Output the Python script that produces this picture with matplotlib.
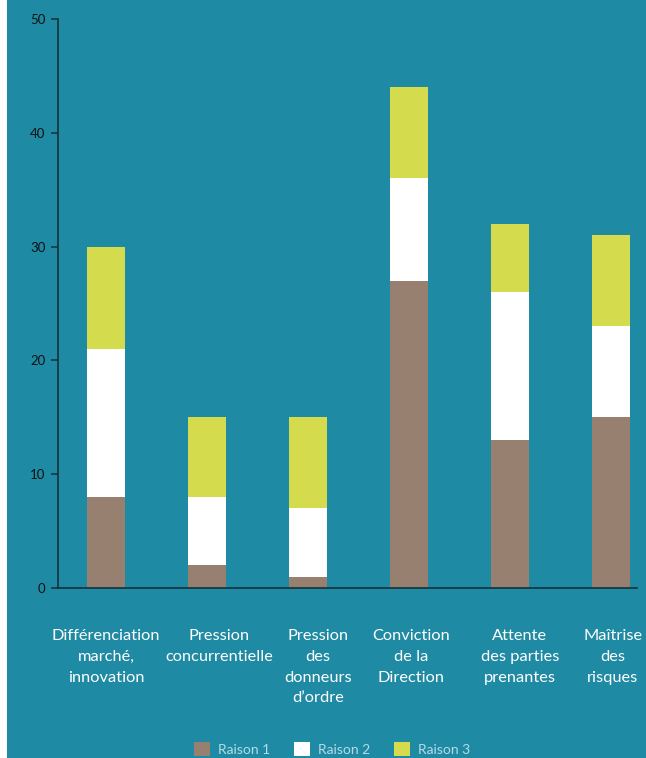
import matplotlib
matplotlib.use("Agg")
import matplotlib.pyplot as plt
from matplotlib.patches import Rectangle, Patch
import numpy as np

plt.rcParams['font.family'] = ['Lato', 'DejaVu Sans']

categories = [
    "Différenciation\nmarché,\ninnovation",
    "Pression\nconcurrentielle",
    "Pression\ndes\ndonneurs\nd’ordre",
    "Conviction\nde la\nDirection",
    "Attente\ndes parties\nprenantes",
    "Maîtrise\ndes\nrisques",
]
raison1 = [8, 2, 1, 27, 13, 15]
raison2 = [13, 6, 6, 9, 13, 8]
raison3 = [9, 7, 8, 8, 6, 8]
series_names = ["Raison 1", "Raison 2", "Raison 3"]
y_ticks = [0, 10, 20, 30, 40, 50]

bg = "#1F8AA3"
colors = ["#978070", "#FFFFFF", "#D4DB4C"]
label_shift_px = [0, 12, 10, 2, 10, 2]

W, H = 646, 758
fig = plt.figure(figsize=(W / 100, H / 100), dpi=100)
fig.patch.set_facecolor("white")
fig.add_artist(Rectangle((7 / W, 0), 1 - 7 / W, 1, transform=fig.transFigure,
                         facecolor=bg, edgecolor="none", zorder=0))

ax = fig.add_axes([58 / W, (H - 588) / H, (637 - 58) / W, (588 - 19) / H])
ax.set_facecolor("none")

x = np.arange(len(categories))
r1 = np.array(raison1)
r2 = np.array(raison2)
r3 = np.array(raison3)
w = 0.376
ax.bar(x, r1, w, color=colors[0], zorder=2)
ax.bar(x, r2, w, bottom=r1, color=colors[1], zorder=2)
ax.bar(x, r3, w, bottom=r1 + r2, color=colors[2], zorder=2)

ax.set_xlim(-0.475, -0.475 + 579 / 101)
ax.set_ylim(0, 50)
ax.set_yticks(y_ticks)
ax.tick_params(axis="y", length=5, width=1.1, color="#14303A", labelsize=9.5,
               labelcolor="#111111", pad=4)
ax.set_xticks([])
for s in ["top", "right"]:
    ax.spines[s].set_visible(False)
for s in ["left", "bottom"]:
    ax.spines[s].set_color("#14303A")
    ax.spines[s].set_linewidth(1.2)

for xi, lab, dx in zip(x, categories, label_shift_px):
    ax.annotate(lab, xy=(xi, 0), xycoords="data",
                xytext=(dx * 0.72, -29.5), textcoords="offset points",
                ha="center", va="top", color="white", fontsize=11.8,
                linespacing=1.62)

handles = [Patch(facecolor=c, edgecolor="none", label=n) for c, n in zip(colors, series_names)]
fig.legend(handles=handles, loc="center", bbox_to_anchor=(332 / W, 1 - 749 / H),
           ncol=3, frameon=False, fontsize=10, labelcolor="#B5DCE6",
           handlelength=1.15, handleheight=1.15, handletextpad=0.6, columnspacing=1.7)

fig.savefig("out.png", dpi=100, facecolor=fig.get_facecolor())
